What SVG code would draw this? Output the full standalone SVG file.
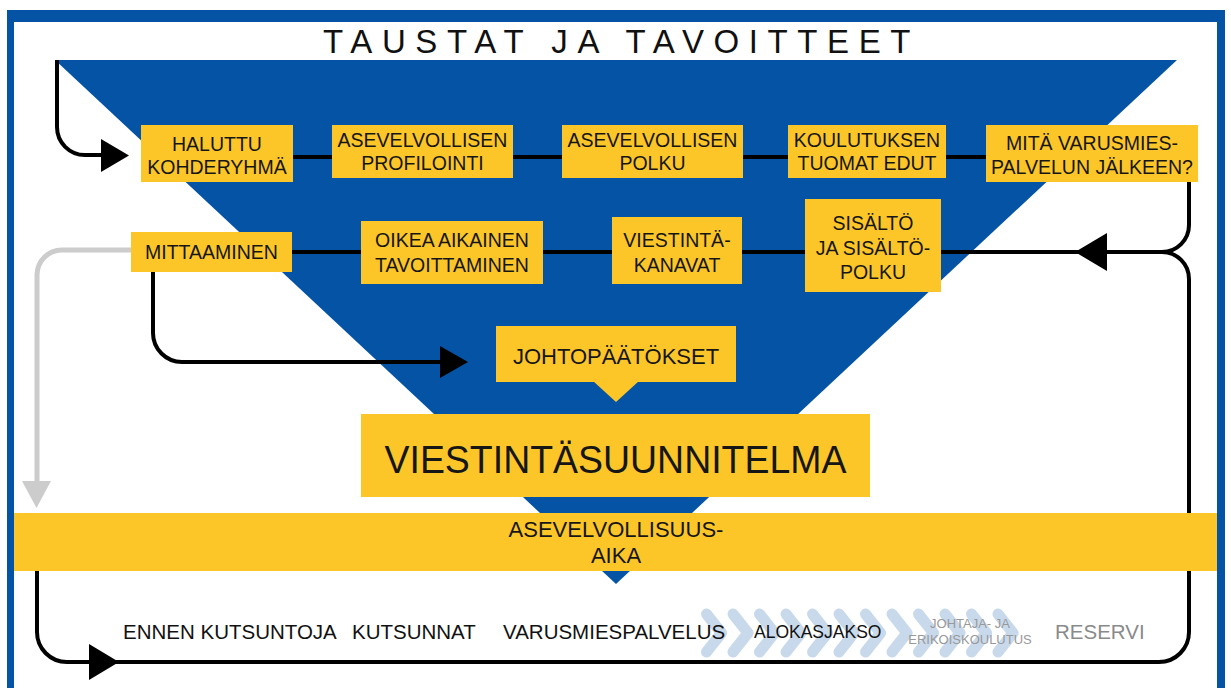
<svg xmlns="http://www.w3.org/2000/svg" width="1231" height="688" viewBox="0 0 1231 688">
<style>
.box{fill:#FCC629;}
.lbl{font-family:"Liberation Sans",Arial,sans-serif;font-size:19.5px;fill:#161616;text-anchor:middle;}
.ln{fill:none;stroke:#000;stroke-width:4;}
.gr{fill:none;stroke:#CCCCCC;stroke-width:5;}
.tl{font-family:"Liberation Sans",Arial,sans-serif;font-size:20.5px;fill:#111;}
.chev{fill:none;stroke:#C9D9EC;stroke-width:11;stroke-linecap:round;stroke-linejoin:round;}
</style>
<rect x="0" y="0" width="1231" height="688" fill="#fff"/>
<rect x="7" y="10" width="1218" height="700" fill="#0453A5"/>
<rect x="14" y="22" width="1203" height="700" fill="#fff"/>
<text x="323" y="53" font-family="'Liberation Sans',Arial,sans-serif" font-size="33" letter-spacing="9.6" fill="#111">TAUSTAT JA TAVOITTEET</text>
<polygon points="55,60 1177,60 616,584" fill="#0453A5"/>
<g id="connectors">
<line class="ln" x1="217" y1="157" x2="1092" y2="157"/>
<line class="ln" x1="211" y1="252" x2="1163" y2="252"/>
<path class="ln" d="M57,60 V127 A28,28 0 0 0 85,155 H104"/>
<polygon points="101,139 101,172 129,155.5" fill="#000"/>
<path class="ln" d="M1189,182 V225 A27,27 0 0 1 1162,252"/>
<path class="ln" d="M1162,252 A27,27 0 0 1 1189,279 V632 A30,30 0 0 1 1159,662 H67 A30,30 0 0 1 37,632 V560"/>
<polygon points="1075,252 1107,233 1107,271" fill="#000"/>
<polygon points="89,644 89,680 119,662" fill="#000"/>
<path class="ln" d="M153,272 V333 A29,29 0 0 0 182,362 H443"/>
<polygon points="440,346 440,378 468,362" fill="#000"/>
<path class="gr" d="M131,250 H62 A25,25 0 0 0 37,275 V483"/>
<polygon points="22,481 51,481 36.5,508" fill="#CCCCCC"/>
</g>
<g id="n-halluttu"><rect class="box" x="141" y="125" width="152" height="57"/><text class="lbl" x="217" y="151">HALUTTU</text><text class="lbl" x="217" y="174">KOHDERYHMÄ</text></g>
<g id="n-profilointi"><rect class="box" x="332" y="125" width="181" height="53"/><text class="lbl" x="422.5" y="147">ASEVELVOLLISEN</text><text class="lbl" x="422.5" y="170">PROFILOINTI</text></g>
<g id="n-polku"><rect class="box" x="562" y="125" width="181" height="53"/><text class="lbl" x="652.5" y="147">ASEVELVOLLISEN</text><text class="lbl" x="652.5" y="170">POLKU</text></g>
<g id="n-edut"><rect class="box" x="788" y="125" width="158" height="53"/><text class="lbl" x="867" y="147">KOULUTUKSEN</text><text class="lbl" x="867" y="170">TUOMAT EDUT</text></g>
<g id="n-jalkeen"><rect class="box" x="986" y="125" width="212" height="57"/><text class="lbl" x="1092" y="150">MITÄ VARUSMIES-</text><text class="lbl" x="1092" y="174">PALVELUN JÄLKEEN?</text></g>
<g id="n-mittaaminen"><rect class="box" x="131" y="232" width="161" height="40"/><text class="lbl" x="211.5" y="259">MITTAAMINEN</text></g>
<g id="n-tavoittaminen"><rect class="box" x="361" y="221" width="182" height="63"/><text class="lbl" x="452" y="247">OIKEA AIKAINEN</text><text class="lbl" x="452" y="272">TAVOITTAMINEN</text></g>
<g id="n-kanavat"><rect class="box" x="612" y="217" width="130" height="67"/><text class="lbl" x="677" y="247">VIESTINTÄ-</text><text class="lbl" x="677" y="272">KANAVAT</text></g>
<g id="n-sisalto"><rect class="box" x="805" y="199" width="136" height="93"/><text class="lbl" x="873" y="230">SISÄLTÖ</text><text class="lbl" x="873" y="255">JA SISÄLTÖ-</text><text class="lbl" x="873" y="279">POLKU</text></g>
<g id="n-johtopaatokset"><rect class="box" x="496" y="326" width="240" height="56"/><polygon class="box" points="593,381 639,381 616,402"/><text class="lbl" x="616" y="364" style="font-size:22px">JOHTOPÄÄTÖKSET</text></g>
<g id="n-viestintasuunnitelma"><rect class="box" x="361" y="414" width="509" height="83"/><text class="lbl" x="615.5" y="473" style="font-size:38px" textLength="462" lengthAdjust="spacingAndGlyphs">VIESTINTÄSUUNNITELMA</text></g>
<g id="n-asevelvollisuusaika"><rect class="box" x="14" y="513" width="1203" height="58"/><text class="lbl" x="616" y="537" style="font-size:22px">ASEVELVOLLISUUS-</text><text class="lbl" x="616" y="563" style="font-size:22px">AIKA</text></g>
<g id="timeline">
<g id="chevrons">
<path class="chev" d="M706.5,614 L721.5,633 L706.5,652"/>
<path class="chev" d="M733,614 L748,633 L733,652"/>
<path class="chev" d="M759.5,614 L774.5,633 L759.5,652"/>
<path class="chev" d="M786,614 L801,633 L786,652"/>
<path class="chev" d="M812.5,614 L827.5,633 L812.5,652"/>
<path class="chev" d="M839,614 L854,633 L839,652"/>
<path class="chev" d="M865.5,614 L880.5,633 L865.5,652"/>
<path class="chev" d="M892,614 L907,633 L892,652"/>
<path class="chev" d="M918.5,614 L933.5,633 L918.5,652"/>
<path class="chev" d="M945,614 L960,633 L945,652"/>
<path class="chev" d="M971.5,614 L986.5,633 L971.5,652"/>
<path class="chev" d="M998,614 L1013,633 L998,652"/>
</g>
<text class="tl" x="123" y="639">ENNEN KUTSUNTOJA</text>
<text class="tl" x="352" y="639">KUTSUNNAT</text>
<text class="tl" x="503" y="639">VARUSMIESPALVELUS</text>
<text class="tl" x="754" y="638" style="font-size:17.5px">ALOKASJAKSO</text>
<text class="tl" x="970" y="628" style="font-size:13px;fill:#999;text-anchor:middle">JOHTAJA- JA</text>
<text class="tl" x="970" y="644" style="font-size:13px;fill:#999;text-anchor:middle">ERIKOISKOULUTUS</text>
<text class="tl" x="1055" y="639" style="fill:#8A8A8A">RESERVI</text>
</g>
</svg>
